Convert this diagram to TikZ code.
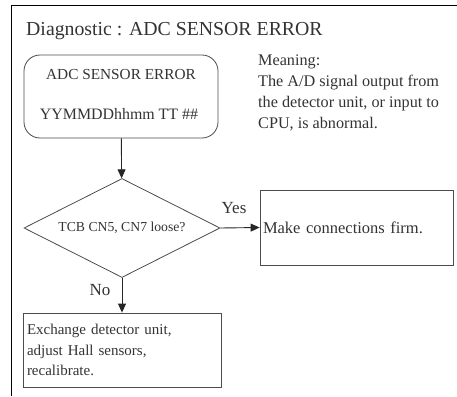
\documentclass[tikz,border=0pt]{standalone}
\usepackage{fontspec}
\setmainfont{Liberation Serif}
\usetikzlibrary{shapes.geometric,arrows.meta}
\begin{document}
\begin{tikzpicture}[x=1pt,y=-1pt,
  txt/.style={text=black!80, font=\fontsize{15}{20.5}\selectfont, inner sep=0pt},
  box/.style={draw=black!70, line width=0.8pt, text=black!80, font=\fontsize{15}{20.5}\selectfont},
  arr/.style={-{Triangle[length=9pt,width=8pt]}, line width=0.9pt, draw=black!85}]
\useasboundingbox (0,0) rectangle (457,396);
\draw[line width=1pt] (457,6) -- (11,6) -- (11,396);
\node[anchor=base west, txt, font=\fontsize{19.8}{22}\selectfont] (title) at (26,36) {Diagnostic : ADC SENSOR ERROR};
\node[box, rounded corners=16pt, minimum width=194pt, minimum height=83pt, inner sep=0pt] (start) at (121,96.5) {};
\node[txt, font=\fontsize{15.3}{20}\selectfont] (l1) at (121,75) {ADC SENSOR ERROR};
\node[txt, font=\fontsize{15.9}{20}\selectfont] (l2) at (119,114) {YYMMDDhhmm TT \#\#};
\node[txt, anchor=base west, align=left, font=\fontsize{16.2}{20.7}\selectfont] (meaning) at (258,128)
  {Meaning:\\The A/D signal output from\\the detector unit, or input to\\CPU, is abnormal.};
\node[box, diamond, aspect=2, minimum width=196pt, minimum height=99pt, inner sep=0pt, font=\fontsize{13.7}{16}\selectfont] (dec) at (122,228) {TCB CN5, CN7 loose?};
\node[box, minimum width=193pt, minimum height=75pt, text width=187pt, align=left, inner sep=3pt, font=\fontsize{16.5}{20}\selectfont] (firm) at (356.5,227.5) {Make connections firm.};
\node[box, minimum width=198pt, minimum height=74pt, text width=190pt, align=left, inner sep=4pt] (fix) at (122,350) {Exchange detector unit,\\adjust Hall sensors,\\recalibrate.};
\draw[arr] (start) -- (dec);
\draw[arr] (dec.east) -- (firm.west);
\draw[arr] (dec.south) -- (fix.north);
\node[txt, font=\fontsize{17}{20}\selectfont] (yes) at (234,208) {Yes};
\node[txt, font=\fontsize{17}{20}\selectfont] (no) at (100,290) {No};
\end{tikzpicture}
\end{document}
